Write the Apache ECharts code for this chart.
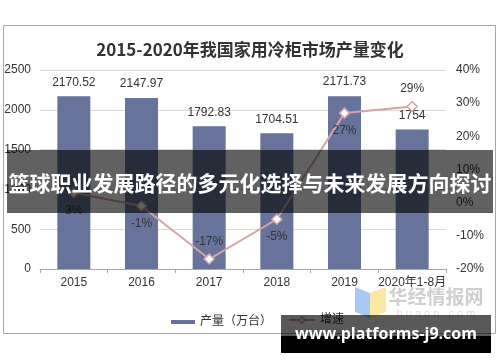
<!DOCTYPE html>
<html>
<head>
<meta charset="utf-8">
<script src="https://cdn.jsdelivr.net/npm/echarts@6/dist/echarts.min.js"></script>
<style>html,body{margin:0;padding:0;background:#fff;}#c{width:500px;height:362px;}</style>
</head>
<body>
<div id="c"></div>
<script>
const categories = ['2015', '2016', '2017', '2018', '2019', '2020年1-8月'];
const output = [2170.52, 2147.97, 1792.83, 1704.51, 2171.73, 1754];
const growth = [3, -1, -17, -5, 27, 29];
const growthLabelPos = ['bottom', 'bottom', 'top', 'bottom', 'bottom', 'top'];
const leftTicks = { min: 0, max: 2500, interval: 500 };
const rightTicks = { min: -20, max: 40, interval: 10 };
const titleText = '2015-2020年我国家用冷柜市场产量变化';
const bannerText = '篮球职业发展路径的多元化选择与未来发展方向探讨';
const siteText = 'www.platforms-j9.com';

const FONT = '"Liberation Sans", Arial, "Noto Sans CJK SC", sans-serif';
const chart = echarts.init(document.getElementById('c'), null, { renderer: 'canvas' });

const option = {
  backgroundColor: '#fff',
  animation: false,
  textStyle: { fontFamily: FONT },
  title: {
    text: titleText,
    left: 'center',
    top: 36,
    textStyle: { fontFamily: '"Noto Sans CJK SC", sans-serif', fontSize: 17, fontWeight: 'bold', color: '#333' }
  },
  grid: { left: 40, right: 54, top: 70, bottom: 93 },
  legend: [
    {
      data: [{ name: '产量（万台）', icon: 'rect' }],
      left: 166, top: 311,
      itemWidth: 24, itemHeight: 4, itemGap: 10,
      textStyle: { fontFamily: FONT, fontSize: 12, color: '#333' }
    },
    {
      data: [{ name: '增速' }],
      left: 283, top: 309,
      itemWidth: 26, itemHeight: 8,
      textStyle: { fontFamily: FONT, fontSize: 12, color: '#333' }
    }
  ],
  xAxis: {
    type: 'category',
    data: categories,
    axisLine: { lineStyle: { color: '#a6a6a6', width: 1 } },
    axisTick: { show: true, alignWithLabel: false, length: 4, lineStyle: { color: '#a6a6a6' } },
    axisLabel: { interval: 0, fontFamily: FONT, fontSize: 12, color: '#333', margin: 8 }
  },
  yAxis: [
    {
      type: 'value', min: leftTicks.min, max: leftTicks.max, interval: leftTicks.interval,
      axisLine: { show: false }, axisTick: { show: false },
      axisLabel: { fontFamily: FONT, fontSize: 12, color: '#333', margin: 9, formatter: v => String(v) },
      splitLine: { lineStyle: { color: '#d9d9d9', width: 1 } }
    },
    {
      type: 'value', min: rightTicks.min, max: rightTicks.max, interval: rightTicks.interval,
      axisLine: { show: false }, axisTick: { show: false },
      axisLabel: { fontFamily: FONT, fontSize: 12, color: '#333', margin: 10, formatter: '{value}%' },
      splitLine: { show: false }
    }
  ],
  series: [
    {
      name: '产量（万台）',
      type: 'bar',
      data: output,
      barWidth: 33,
      itemStyle: { color: '#67739b' },
      label: { show: true, position: 'top', distance: 8, fontFamily: FONT, fontSize: 12, color: '#333' }
    },
    {
      name: '增速',
      type: 'line',
      yAxisIndex: 1,
      data: growth.map((v, i) => ({
        value: v,
        label: { position: growthLabelPos[i] }
      })),
      symbol: 'diamond',
      symbolSize: 10,
      lineStyle: { color: '#d6a4a4', width: 2 },
      itemStyle: { color: '#fff', borderColor: '#d6a4a4', borderWidth: 1.5 },
      label: { show: true, distance: 6, fontFamily: FONT, fontSize: 12, color: '#333', formatter: '{c}%' },
      z: 3
    }
  ],
  graphic: [
    {
      type: 'rect', z: -1, silent: true,
      shape: { x: 3.5, y: 25.5, width: 492, height: 308 },
      style: { fill: 'none', stroke: '#a6a6a6', lineWidth: 1 }
    },
    {
      type: 'polygon', z: 90, silent: true,
      shape: { points: [[355, 287], [370, 293], [370, 318], [355, 312]] },
      style: { fill: '#a9c9f2' }
    },
    {
      type: 'polygon', z: 90, silent: true,
      shape: { points: [[370, 293], [386, 287], [386, 312], [370, 318]] },
      style: { fill: '#fbe8a2' }
    },
    {
      type: 'text', z: 90, silent: true,
      style: { text: '华经情报网', x: 436, y: 297, align: 'center', verticalAlign: 'middle',
        fontFamily: '"Noto Sans CJK SC", sans-serif', fontSize: 19, fontWeight: 'bold', fill: '#cfcfcf' }
    },
    {
      type: 'text', z: 90, silent: true,
      style: { text: 'h u a o n . c o m', x: 436, y: 314, align: 'center', verticalAlign: 'middle',
        fontFamily: FONT, fontSize: 11, fill: '#dcdcdc' }
    },
    {
      type: 'rect', z: 100, silent: true,
      shape: { x: 7, y: 150, width: 486, height: 63 },
      style: { fill: 'rgba(0,0,0,0.62)' }
    },
    {
      type: 'text', z: 101, silent: true,
      style: { text: bannerText, x: 250, y: 183, align: 'center', verticalAlign: 'middle',
        fontFamily: '"Noto Sans CJK SC", sans-serif', fontSize: 21, fontWeight: 'bold', fill: '#fff' }
    },
    {
      type: 'rect', z: 100, silent: true,
      shape: { x: 281, y: 315, width: 210, height: 21 },
      style: { fill: 'rgba(0,0,0,0.65)' }
    },
    {
      type: 'rect', z: 100, silent: true,
      shape: { x: 281, y: 336, width: 210, height: 17 },
      style: { fill: '#000' }
    },
    {
      type: 'text', z: 101, silent: true,
      style: { text: siteText, x: 386, y: 334, align: 'center', verticalAlign: 'middle',
        fontFamily: '"Open Sans", "DejaVu Sans", sans-serif', fontSize: 16, fontWeight: 'bold', fill: '#fff' }
    }
  ]
};
chart.setOption(option);
</script>
</body>
</html>
